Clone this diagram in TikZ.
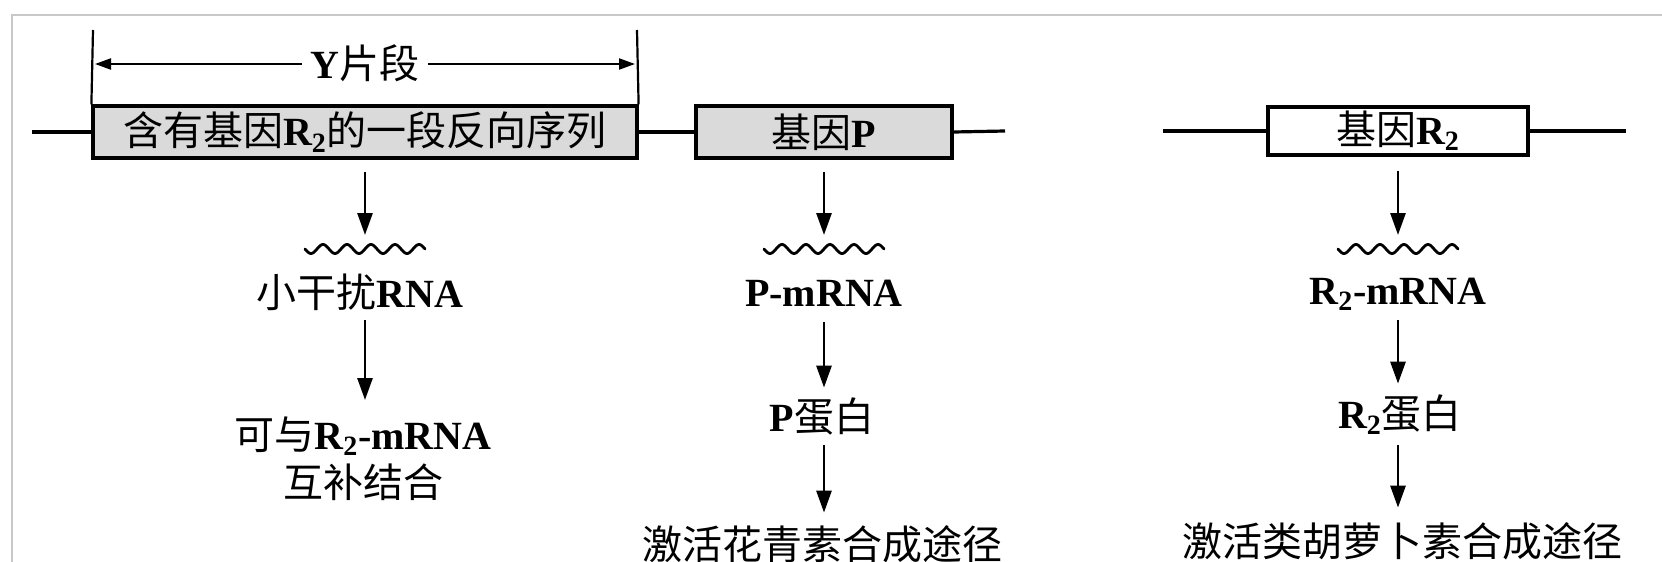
\documentclass[tikz,border=0pt]{standalone}
\usepackage{fontspec}
\setmainfont{Liberation Serif}
\newfontfamily\cjkfam{Noto Sans CJK SC}
\newcommand\cjk{\cjkfam\mdseries}
\usetikzlibrary{arrows.meta,calc}
\definecolor{boxgray}{RGB}{218,218,218}
\definecolor{framegray}{RGB}{200,200,200}
\begin{document}
\begin{tikzpicture}[x=0.5pt,y=-0.5pt,
  font=\fontsize{20}{24}\selectfont\bfseries,
  genebox/.style={draw=black, line width=1.6pt, inner sep=0pt},
  dna/.style={line width=1.6pt},
  arr/.style={line width=1.4pt, -{Triangle[length=11pt,width=7.5pt]}},
  yarr/.style={line width=1.1pt, -{Triangle[length=8pt,width=5.5pt]}},
  txt/.style={inner sep=0pt, text height=17pt, text depth=3pt},
  wavy/.style={line width=1.4pt, line join=round, line cap=round},
]
\useasboundingbox (0,0) rectangle (1662,562);
\fill[white] (0,0) rectangle (1662,562);
\draw[framegray, line width=1pt] (12,562) -- (12,15) -- (1662,15);

% gene boxes
\node[genebox, fill=boxgray, minimum width=272pt, minimum height=26pt] (b1) at (365,132)
  {{\cjk 含有基因}R\textsubscript{2}{\cjk 的一段反向序列}};
\node[genebox, fill=boxgray, minimum width=128pt, minimum height=26pt] (b2) at (824,132)
  {{\cjk 基因}P};
\node[genebox, fill=white, minimum width=130pt, minimum height=24pt] (b3) at (1398,131)
  {{\cjk 基因}R\textsubscript{2}};

% DNA lines
\coordinate (l0) at (32,132);
\coordinate (l1) at (1005,131);
\coordinate (l2) at (1163,131);
\coordinate (l3) at (1626,131);
\draw[dna] (l0) -- (b1.west);
\draw[dna] (b1.east) -- (b2.west);
\draw[dna] (b2.east) -- (l1);
\draw[dna] (l2) -- (b3.west);
\draw[dna] (b3.east) -- (l3);

% Y fragment bracket
\coordinate (ytl) at (93,30);
\coordinate (ytr) at (637,30);
\draw[line width=1.1pt] (b1.north west) -- (ytl);
\draw[line width=1.1pt] (b1.north east) -- (ytr);
\node[txt] (ylab) at (365,64) {Y{\cjk 片段}};
\coordinate (yl) at (95,64);
\coordinate (yr) at (635,64);
\draw[yarr, shorten <=4pt] (ylab.west) -- (yl);
\draw[yarr, shorten <=4pt] (ylab.east) -- (yr);

% arrows to transcripts
\coordinate (w1) at (365,235);
\coordinate (w2) at (824,235);
\coordinate (w3) at (1398,235);
\draw[arr, shorten <=6pt] (b1.south) -- (w1);
\draw[arr, shorten <=6pt] (b2.south) -- (w2);
\draw[arr, shorten <=7pt] (b3.south) -- (w3);

% wavy RNA
\foreach \cx in {365,824,1398}{
  \draw[wavy] plot[domain=-60:60, samples=97, smooth] ({\cx+\x},{249-4.5*sin(\x*15)});
}

% column 1
\node[txt] (t1) at (360,293) {{\cjk 小干扰}RNA};
\node[inner sep=0pt, align=center, anchor=north] (t1b) at (363,416)
  {{\cjk 可与}R\textsubscript{2}-mRNA\\{\cjk 互补结合}};
\draw[arr, shorten <=3.5pt, shorten >=8pt] (t1.south -| w1) -- (t1b.north -| w1);

% column 2
\node[txt] (t2) at (824,292) {P-mRNA};
\node[txt] (t2b) at (822,417) {P{\cjk 蛋白}};
\node[txt] (t2c) at (822,545) {\cjk 激活花青素合成途径};
\draw[arr, shorten <=5pt, shorten >=4.5pt] (t2.south -| w2) -- (t2b.north -| w2);
\draw[arr, shorten <=4pt, shorten >=6pt] (t2b.south -| w2) -- (t2c.north -| w2);

% column 3
\node[txt] (t3) at (1398,290) {R\textsubscript{2}-mRNA};
\node[txt] (t3b) at (1400,414) {R\textsubscript{2}{\cjk 蛋白}};
\node[txt] (t3c) at (1402,542) {\cjk 激活类胡萝卜素合成途径};
\draw[arr, shorten <=5pt, shorten >=5pt] (t3.south -| w3) -- (t3b.north -| w3);
\draw[arr, shorten <=5.5pt, shorten >=7pt] (t3b.south -| w3) -- (t3c.north -| w3);
\end{tikzpicture}
\end{document}
